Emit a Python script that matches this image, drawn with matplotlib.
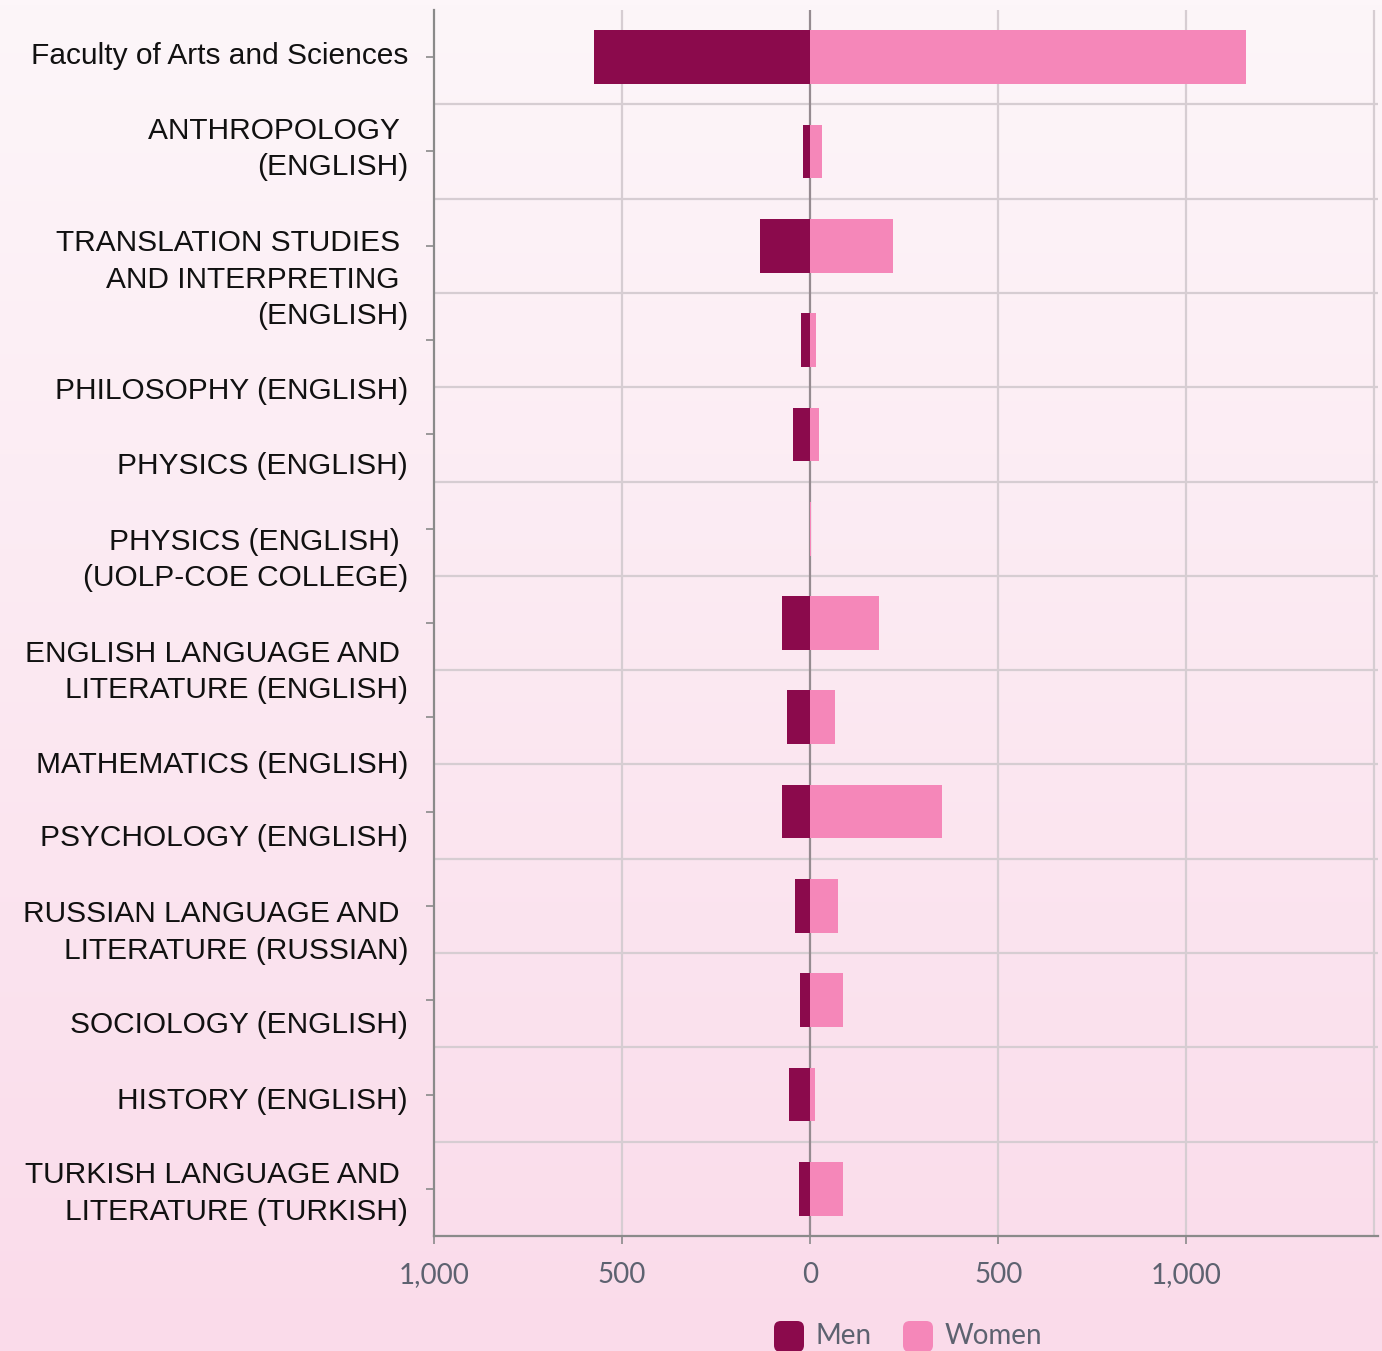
import numpy as np
import matplotlib
matplotlib.use("Agg")
import matplotlib.pyplot as plt
import matplotlib.transforms as mtransforms
from matplotlib.patches import FancyBboxPatch
from matplotlib.ticker import FuncFormatter, FixedLocator

# data
programs = [
    "Faculty of Arts and Sciences",
    "ANTHROPOLOGY \n(ENGLISH)",
    "TRANSLATION STUDIES \nAND INTERPRETING \n(ENGLISH)",
    "PHILOSOPHY (ENGLISH)",
    "PHYSICS (ENGLISH)",
    "PHYSICS (ENGLISH) \n(UOLP-COE COLLEGE)",
    "ENGLISH LANGUAGE AND \nLITERATURE (ENGLISH)",
    "MATHEMATICS (ENGLISH)",
    "PSYCHOLOGY (ENGLISH)",
    "RUSSIAN LANGUAGE AND \nLITERATURE (RUSSIAN)",
    "SOCIOLOGY (ENGLISH)",
    "HISTORY (ENGLISH)",
    "TURKISH LANGUAGE AND \nLITERATURE (TURKISH)",
]
men = [575, 19, 134, 23, 45, 1, 76, 61, 75, 40, 27, 55, 29]
women = [1160, 32, 221, 17, 24, 2, 184, 66, 352, 73, 88, 13, 88]
series_names = ["Men", "Women"]
x_ticks = [-1000, -500, 0, 500, 1000]

men_color = "#8B0A4C"
women_color = "#F587B9"
grid_color = "#d6cdd2"
axis_color = "#8a8a8a"
tick_text_color = "#5d6270"

# vertical shift of each category label in pixels (reference labels drift)
label_shift = [-1, -2.5, 34, 51, 31.5, 31, 49, 47.5, 26.5, 26.5, 24.5, 6.5, 4.5]

W, H = 1382, 1351
fig = plt.figure(figsize=(W / 100, H / 100), dpi=100)

# background gradient
bg = fig.add_axes([0, 0, 1, 1], zorder=0)
top_rgb = np.array([253, 246, 249]) / 255
bot_rgb = np.array([250, 219, 234]) / 255
t = np.linspace(0, 1, 256)[:, None, None]
grad = top_rgb[None, None, :] * (1 - t) + bot_rgb[None, None, :] * t
bg.imshow(grad, aspect="auto", extent=[0, 1, 0, 1])
bg.axis("off")

left, right, top, bottom = 434, 1378, 10, 1236
ax = fig.add_axes([left / W, 1 - bottom / H, (right - left) / W, (bottom - top) / H], zorder=1)
ax.patch.set_alpha(0)

y = np.arange(len(programs))
ax.barh(y, [-m for m in men], height=0.57, color=men_color, zorder=3)
ax.barh(y, women, height=0.57, color=women_color, zorder=3)

ax.set_xlim(-1000, 1510)
ax.set_ylim(len(programs) - 0.5, -0.5)

# gridlines
ax.xaxis.set_major_locator(FixedLocator(x_ticks))
ax.yaxis.set_major_locator(FixedLocator(y))
ax.yaxis.set_minor_locator(FixedLocator(np.arange(len(programs) - 1) + 0.5))
for xv in [-500, 500, 1000, 1500]:
    ax.axvline(xv, color=grid_color, lw=1.6, zorder=1)
ax.axvline(0, color="#958b90", lw=1.6, zorder=2)
ax.grid(axis="y", which="minor", color=grid_color, lw=1.6, zorder=1)

for s in ["top", "right"]:
    ax.spines[s].set_visible(False)
for s in ["left", "bottom"]:
    ax.spines[s].set_color(axis_color)
    ax.spines[s].set_linewidth(1.6)

ax.tick_params(axis="x", which="major", length=6, width=1.2, color=axis_color,
               pad=12.5, labelsize=20, labelcolor=tick_text_color)
ax.tick_params(axis="y", which="major", length=6, width=1.2, color=axis_color, labelleft=False)
ax.tick_params(axis="y", which="minor", length=0)
ax.xaxis.set_major_formatter(FuncFormatter(lambda v, p: f"{abs(int(v)):,}"))
for lbl in ax.get_xticklabels():
    lbl.set_fontfamily("Lato")

# category labels
for i, name in enumerate(programs):
    off = mtransforms.ScaledTranslation(-26 / 100, -label_shift[i] / 100, fig.dpi_scale_trans)
    ax.text(0, i, name, transform=ax.get_yaxis_transform() + off,
            ha="right", va="center", multialignment="right",
            fontsize=21.5, family="Liberation Sans", color="#111111", linespacing=1.38)

# legend
colors = [men_color, women_color]
box_x = [774, 903]
for name, c, bx in zip(series_names, colors, box_x):
    p = FancyBboxPatch((bx / W, 1 - 1352 / H), 30 / W, 31 / H,
                       boxstyle="round,pad=0,rounding_size=0.005",
                       transform=fig.transFigure, facecolor=c, edgecolor="none", zorder=5)
    fig.patches.append(p)
    fig.text((bx + 42) / W, 1 - 1344 / H, name, fontsize=20, family="Lato",
             color=tick_text_color, ha="left", va="baseline")

fig.savefig("out.png", dpi=100)
